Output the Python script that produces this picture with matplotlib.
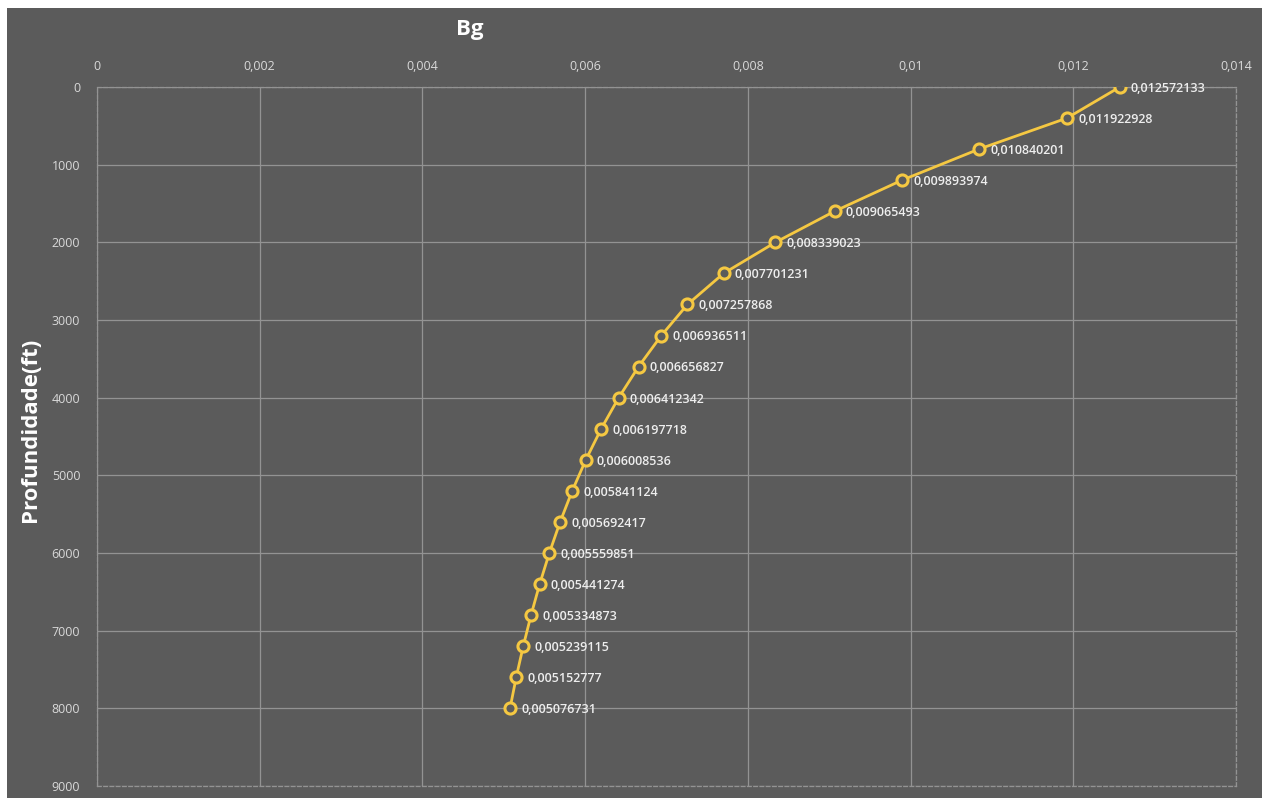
import matplotlib
matplotlib.use("Agg")
import matplotlib.pyplot as plt
from matplotlib.patches import Rectangle
from matplotlib.ticker import FuncFormatter

# depth (ft) and gas formation volume factor
depth = [0, 400, 800, 1200, 1600, 2000, 2400, 2800, 3200, 3600, 4000,
         4400, 4800, 5200, 5600, 6000, 6400, 6800, 7200, 7600, 8000]
bg = [0.012572133, 0.011922928, 0.010840201, 0.009893974, 0.009065493,
      0.008339023, 0.007701231, 0.007257868, 0.006936511, 0.006656827,
      0.006412342, 0.006197718, 0.006008536, 0.005841124, 0.005692417,
      0.005559851, 0.005441274, 0.005334873, 0.005239115, 0.005152777,
      0.005076731]
bg_labels = ["0,012572133", "0,011922928", "0,010840201", "0,009893974",
             "0,009065493", "0,008339023", "0,007701231", "0,007257868",
             "0,006936511", "0,006656827", "0,006412342", "0,006197718",
             "0,006008536", "0,005841124", "0,005692417", "0,005559851",
             "0,005441274", "0,005334873", "0,005239115", "0,005152777",
             "0,005076731"]

BG_COLOR = "#5b5b5b"
GRID = "#939393"
TXT = "#d9d9d9"
LINE = "#f5c842"

plt.rcParams["font.family"] = ["Open Sans", "DejaVu Sans"]

fig = plt.figure(figsize=(12.72, 7.98), dpi=100)
fig.patch.set_facecolor("white")
fig.add_artist(Rectangle((7 / 1272, 0), (1262 - 7) / 1272, 1 - 8 / 798,
                         transform=fig.transFigure, facecolor=BG_COLOR,
                         edgecolor="none", zorder=0))

ax = fig.add_axes([97 / 1272, 1 - 786 / 798, (1236 - 97) / 1272, (786 - 87) / 798])
ax.set_facecolor(BG_COLOR)
ax.set_xlim(0, 0.014)
ax.set_ylim(9000, 0)
ax.set_xticks([0, 0.002, 0.004, 0.006, 0.008, 0.01, 0.012, 0.014])
ax.set_yticks(range(0, 9001, 1000))
ax.xaxis.set_major_formatter(FuncFormatter(
    lambda v, p: "0" if v == 0 else f"{v:g}".replace(".", ",")))
ax.xaxis.tick_top()
ax.tick_params(axis="both", length=0, colors=TXT, labelsize=9)
ax.tick_params(axis="x", pad=10)
ax.tick_params(axis="y", pad=12)
ax.grid(True, color=GRID, linewidth=0.9)
for s in ax.spines.values():
    s.set_color(GRID)
    s.set_linestyle((0, (3, 2)))
    s.set_linewidth(0.9)

ax.plot(bg, depth, color=LINE, linewidth=2, marker="o", markersize=8,
        markerfacecolor=BG_COLOR, markeredgecolor=LINE, markeredgewidth=2.2,
        zorder=3)
for x, y, lab in zip(bg, depth, bg_labels):
    ax.annotate(lab, (x, y), xytext=(8, -1), textcoords="offset points",
                ha="left", va="center", color="#eeeeee", fontsize=9,
                fontweight="semibold", zorder=4)

fig.text(470 / 1272, 1 - 30 / 798, "Bg", color="white", fontsize=16,
         fontweight="bold", ha="center", va="center")
fig.text(30 / 1272, 1 - 430 / 798, "Profundidade(ft)", color="white",
         fontsize=16, fontweight="bold", rotation=90, ha="center", va="center")

fig.savefig("out.png", dpi=100)
